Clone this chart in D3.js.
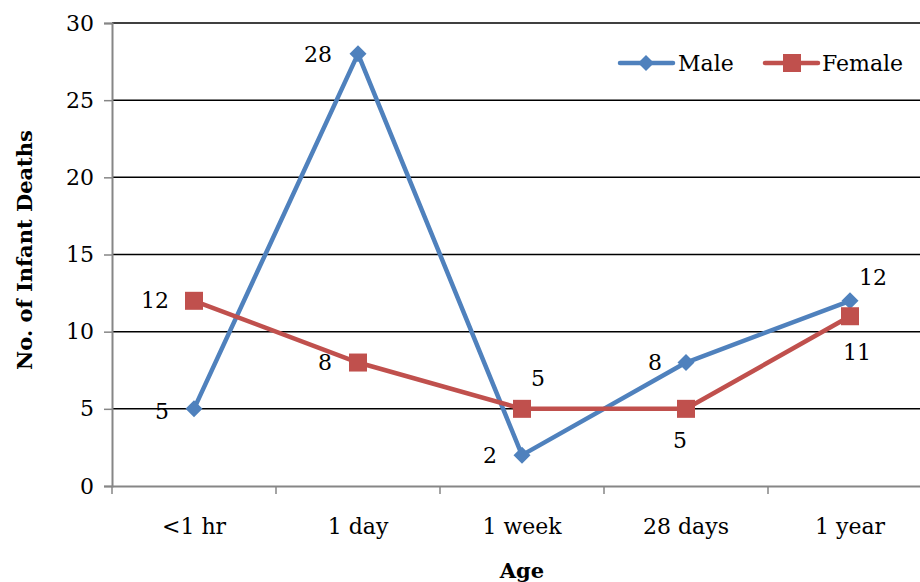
<!DOCTYPE html>
<html><head><meta charset="utf-8">
<script src="https://cdn.jsdelivr.net/npm/d3@7/dist/d3.min.js"></script>
<style>body{margin:0;background:#fff}svg{display:block}text{font-family:"DejaVu Serif",serif;fill:#000}</style>
</head><body><svg id="c" width="920" height="582"></svg>
<script>
const categories = ["<1 hr", "1 day", "1 week", "28 days", "1 year"];
const male = [5, 28, 2, 8, 12];
const female = [12, 8, 5, 5, 11];
const yTicks = [0, 5, 10, 15, 20, 25, 30];
const seriesNames = ["Male", "Female"];
// label placement per point: [dx, dy] relative to the point
const maleLabelPos = [[-32, 3], [-40, 1], [-32, 0], [-31, 0], [23, -23]];
const femaleLabelPos = [[-39, 0], [-33, 0], [16, -30], [-6, 32], [7, 36]];

const FONT = '"DejaVu Serif",serif';
const FS = "22px";
const svg = d3.select("#c");
const L = 112, R = 932, T = 23, B = 486;
const x = d3.scaleBand().domain(categories).range([L, R]);
const y = d3.scaleLinear().domain([0, 30]).range([B, T]);
const cx = d => x(d) + x.bandwidth() / 2;

// gridlines
svg.append("g").selectAll("line").data(yTicks.filter(v => v > 0)).join("line")
  .attr("x1", L).attr("x2", 920).attr("y1", d => y(d)).attr("y2", d => y(d))
  .attr("stroke", "#000").attr("stroke-width", 1.5);

// y axis
const ya = svg.append("g").attr("transform", `translate(${L},0)`)
  .call(d3.axisLeft(y).tickValues(yTicks).tickSize(8).tickPadding(10));
ya.attr("font-family", null).attr("font-size", null);
ya.select(".domain").attr("stroke", "#868686").attr("stroke-width", 2);
ya.selectAll(".tick line").attr("stroke", "#868686").attr("stroke-width", 1.5);
ya.selectAll(".tick text").style("font-size", FS).style("font-family", FONT).attr("fill", "#000");

// x axis
const xa = svg.append("g").attr("transform", `translate(0,${B})`)
  .call(d3.axisBottom(x).tickSize(0).tickPadding(32));
xa.attr("font-family", null).attr("font-size", null);
xa.select(".domain").attr("stroke", "#868686").attr("stroke-width", 2);
xa.selectAll(".tick text").style("font-size", FS).style("font-family", FONT).attr("fill", "#000");
svg.append("g").selectAll("line").data(d3.range(categories.length)).join("line")
  .attr("x1", i => L + i * x.bandwidth()).attr("x2", i => L + i * x.bandwidth())
  .attr("y1", B).attr("y2", B + 8).attr("stroke", "#868686").attr("stroke-width", 1.5);

// axis titles
svg.append("text").attr("x", 522).attr("y", 578).attr("text-anchor", "middle")
  .style("font-size", "21px").style("font-weight", "bold").text("Age");
svg.append("text").attr("transform", "translate(32,250) rotate(-90)").attr("text-anchor", "middle")
  .style("font-size", "21px").style("font-weight", "bold").text("No. of Infant Deaths");

const line = d3.line().x((d, i) => cx(categories[i])).y(d => y(d));
const blue = "#4F81BD", red = "#C0504D";

svg.append("path").datum(male).attr("d", line).attr("fill", "none").attr("stroke", blue).attr("stroke-width", 4.5).attr("stroke-linejoin", "round");
svg.append("path").datum(female).attr("d", line).attr("fill", "none").attr("stroke", red).attr("stroke-width", 4.5).attr("stroke-linejoin", "round");

const diamond = s => `M0,${-s}L${s},0L0,${s}L${-s},0Z`;
svg.append("g").selectAll("path").data(male).join("path")
  .attr("d", diamond(8.5)).attr("fill", blue)
  .attr("transform", (d, i) => `translate(${cx(categories[i])},${y(d)})`);
svg.append("g").selectAll("rect").data(female).join("rect")
  .attr("x", (d, i) => cx(categories[i]) - 9).attr("y", d => y(d) - 9)
  .attr("width", 18).attr("height", 18).attr("fill", red);

// data labels
svg.append("g").selectAll("text").data(male).join("text")
  .attr("x", (d, i) => cx(categories[i]) + maleLabelPos[i][0])
  .attr("y", (d, i) => y(d) + maleLabelPos[i][1])
  .attr("text-anchor", "middle").attr("dominant-baseline", "central")
  .style("font-size", FS).text(d => d);
svg.append("g").selectAll("text").data(female).join("text")
  .attr("x", (d, i) => cx(categories[i]) + femaleLabelPos[i][0])
  .attr("y", (d, i) => y(d) + femaleLabelPos[i][1])
  .attr("text-anchor", "middle").attr("dominant-baseline", "central")
  .style("font-size", FS).text(d => d);

// legend
const lg = svg.append("g");
const ly = 63;
lg.append("line").attr("x1", 620).attr("x2", 673).attr("y1", ly).attr("y2", ly).attr("stroke", blue).attr("stroke-width", 4.5).attr("stroke-linecap", "round");
lg.append("path").attr("d", diamond(8)).attr("fill", blue).attr("transform", `translate(646,${ly})`);
lg.append("text").attr("x", 678).attr("y", ly).attr("dominant-baseline", "central").style("font-size", FS).text(seriesNames[0]);
lg.append("line").attr("x1", 765).attr("x2", 818).attr("y1", ly).attr("y2", ly).attr("stroke", red).attr("stroke-width", 4.5).attr("stroke-linecap", "round");
lg.append("rect").attr("x", 783).attr("y", ly - 9).attr("width", 18).attr("height", 18).attr("fill", red);
lg.append("text").attr("x", 822).attr("y", ly).attr("dominant-baseline", "central").style("font-size", FS).text(seriesNames[1]);
</script></body></html>
